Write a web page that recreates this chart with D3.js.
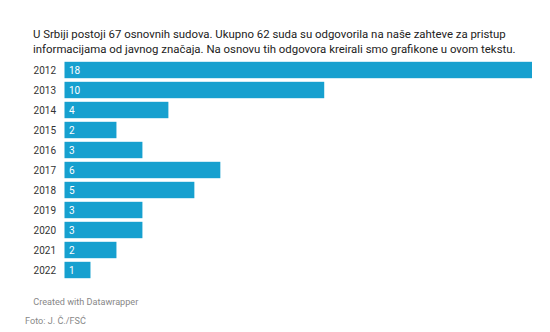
<!DOCTYPE html>
<html>
<head>
<meta charset="utf-8">
<script src="https://cdn.jsdelivr.net/npm/d3@7"></script>
<style>
  html, body { margin: 0; padding: 0; background: #fff; }
  svg { display: block; font-family: Roboto, "Noto Sans", sans-serif; }
</style>
</head>
<body>
<svg id="chart" width="550" height="332"></svg>
<script>
// Broj sudova po godini
const years = ["2012", "2013", "2014", "2015", "2016", "2017", "2018", "2019", "2020", "2021", "2022"];
const counts = [18, 10, 4, 2, 3, 6, 5, 3, 3, 2, 1];

const titleLines = [
  "U Srbiji postoji 67 osnovnih sudova. Ukupno 62 suda su odgovorila na naše zahteve za pristup",
  "informacijama od javnog značaja. Na osnovu tih odgovora kreirali smo grafikone u ovom tekstu."
];
const creditText = "Created with Datawrapper";
const photoText = "Foto: J. Č./FSĆ";

const svg = d3.select("#chart");

// font size that makes a string span the given width
function fitSize(str, width, base) {
  const t = svg.append("text").attr("font-size", base).text(str);
  const w = t.node().getComputedTextLength();
  t.remove();
  return base * width / w;
}

const titleSize = fitSize(titleLines[1], 483, 13);
const labelSize = fitSize("2012", 22.5, 10);
const footSize = fitSize(creditText, 105, 10);

const x = d3.scaleLinear().domain([0, 18]).range([64.5, 532]);
const y = d3.scaleBand().domain(years).range([60, 280]).paddingInner(0.18).paddingOuter(0.09);

// Naslov
svg.append("g")
  .selectAll("text")
  .data(titleLines)
  .join("text")
  .attr("x", 33)
  .attr("y", (d, i) => 38 + i * 15)
  .attr("font-size", titleSize)
  .attr("fill", "#222")
  .text(d => d);

const rows = svg.append("g")
  .selectAll("g")
  .data(years.map((yr, i) => ({ year: yr, value: counts[i] })))
  .join("g");

rows.append("rect")
  .attr("x", x(0))
  .attr("y", d => y(d.year))
  .attr("width", d => x(d.value) - x(0))
  .attr("height", y.bandwidth())
  .attr("fill", "#16a0cf");

rows.append("text")
  .attr("x", 56)
  .attr("y", d => y(d.year) + y.bandwidth() / 2)
  .attr("dy", "0.36em")
  .attr("text-anchor", "end")
  .attr("font-size", labelSize)
  .attr("fill", "#333")
  .text(d => d.year);

rows.append("text")
  .attr("x", x(0) + 4.5)
  .attr("y", d => y(d.year) + y.bandwidth() / 2)
  .attr("dy", "0.36em")
  .attr("font-size", labelSize)
  .attr("fill", "#fff")
  .text(d => d.value);

svg.append("text")
  .attr("x", 33.3)
  .attr("y", 304.7)
  .attr("font-size", footSize)
  .attr("fill", "#888")
  .text(creditText);

svg.append("text")
  .attr("x", 25)
  .attr("y", 324)
  .attr("font-size", footSize)
  .attr("fill", "#888")
  .text(photoText);
</script>
</body>
</html>
